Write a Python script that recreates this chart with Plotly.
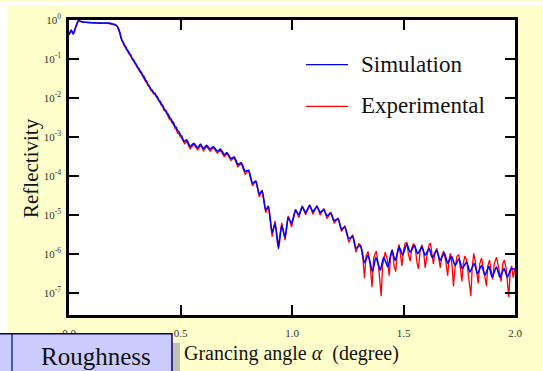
import numpy as np
import plotly.graph_objects as go

# Grazing angle (degree) and log10 reflectivity for the simulated curve
sim_angle = [
    0.000, 0.010, 0.019, 0.031, 0.042, 0.050, 0.060, 0.080, 0.100, 0.120,
    0.140, 0.160, 0.180, 0.196, 0.208, 0.216, 0.222, 0.228, 0.233, 0.238,
    0.244, 0.249, 0.254, 0.259, 0.265, 0.271, 0.277, 0.283, 0.289, 0.295,
    0.301, 0.307, 0.313, 0.319, 0.325, 0.331, 0.337, 0.343, 0.349, 0.355,
    0.361, 0.367, 0.373, 0.379, 0.385, 0.391, 0.397, 0.403, 0.409, 0.415,
    0.421, 0.427, 0.433, 0.439, 0.445, 0.451, 0.457, 0.463, 0.469, 0.475,
    0.481, 0.487, 0.493, 0.499, 0.505, 0.512, 0.518, 0.528, 0.543, 0.560,
    0.577, 0.590, 0.603, 0.617, 0.633, 0.647, 0.665, 0.680, 0.696, 0.709,
    0.726, 0.741, 0.757, 0.772, 0.790, 0.805, 0.823, 0.838, 0.853, 0.866,
    0.882, 0.894, 0.911, 0.924, 0.939, 0.954, 0.969, 0.983, 0.998, 1.016,
    1.031, 1.046, 1.061, 1.079, 1.094, 1.112, 1.126, 1.143, 1.157, 1.174,
    1.189, 1.207, 1.222, 1.237, 1.255, 1.272, 1.287, 1.307, 1.325, 1.341,
    1.361, 1.376, 1.396, 1.411, 1.430, 1.448, 1.463, 1.481, 1.496, 1.515,
    1.530, 1.549, 1.564, 1.582, 1.597, 1.615, 1.629, 1.649, 1.664, 1.683,
    1.698, 1.716, 1.731, 1.749, 1.763, 1.783, 1.798, 1.817, 1.832, 1.850,
    1.865, 1.883, 1.897, 1.917, 1.932, 1.951, 1.966, 1.983, 2.000,
]
sim_log_refl = [
    -0.38, -0.26, -0.36, -0.16, -0.02, -0.03, -0.05, -0.06, -0.07, -0.075,
    -0.08, -0.075, -0.08, -0.10, -0.12, -0.16, -0.22, -0.32, -0.44, -0.53,
    -0.58, -0.65, -0.68, -0.75, -0.79, -0.86, -0.90, -0.98, -1.02, -1.09,
    -1.13, -1.21, -1.24, -1.31, -1.35, -1.42, -1.46, -1.54, -1.58, -1.66,
    -1.70, -1.77, -1.80, -1.86, -1.88, -1.94, -1.98, -2.06, -2.09, -2.16,
    -2.20, -2.28, -2.31, -2.38, -2.42, -2.50, -2.53, -2.60, -2.64, -2.73,
    -2.75, -2.84, -2.86, -2.94, -2.97, -3.07, -3.11, -3.07, -3.24, -3.16,
    -3.28, -3.18, -3.30, -3.21, -3.31, -3.24, -3.36, -3.31, -3.45, -3.40,
    -3.55, -3.51, -3.70, -3.66, -3.88, -3.85, -4.18, -4.13, -4.46, -4.38,
    -4.86, -4.78, -5.45, -5.22, -5.86, -5.27, -5.57, -5.06, -5.21, -4.87,
    -4.99, -4.79, -4.93, -4.76, -4.91, -4.78, -4.93, -4.86, -5.02, -4.95,
    -5.14, -5.10, -5.36, -5.31, -5.60, -5.55, -5.85, -5.77, -6.22, -6.03,
    -6.45, -6.08, -6.41, -6.08, -6.33, -5.91, -6.16, -5.82, -6.03, -5.74,
    -5.95, -5.78, -5.99, -5.82, -6.03, -5.86, -6.09, -5.91, -6.16, -5.97,
    -6.23, -6.06, -6.29, -6.12, -6.37, -6.20, -6.46, -6.24, -6.50, -6.29,
    -6.54, -6.31, -6.59, -6.33, -6.59, -6.37, -6.59, -6.37, -6.40,
]

# Measured curve
exp_angle = [
    0.000, 0.010, 0.019, 0.031, 0.042, 0.050, 0.060, 0.080, 0.100, 0.120,
    0.140, 0.160, 0.180, 0.196, 0.208, 0.216, 0.222, 0.228, 0.233, 0.238,
    0.244, 0.249, 0.254, 0.259, 0.265, 0.271, 0.277, 0.283, 0.289, 0.295,
    0.301, 0.307, 0.313, 0.319, 0.325, 0.331, 0.337, 0.343, 0.349, 0.355,
    0.361, 0.367, 0.373, 0.379, 0.385, 0.391, 0.397, 0.403, 0.409, 0.415,
    0.421, 0.427, 0.433, 0.439, 0.445, 0.451, 0.457, 0.463, 0.469, 0.475,
    0.481, 0.487, 0.493, 0.499, 0.505, 0.512, 0.518, 0.528, 0.543, 0.560,
    0.577, 0.590, 0.603, 0.617, 0.633, 0.647, 0.665, 0.680, 0.696, 0.709,
    0.726, 0.741, 0.757, 0.772, 0.790, 0.805, 0.823, 0.838, 0.853, 0.866,
    0.882, 0.894, 0.911, 0.924, 0.939, 0.954, 0.969, 0.983, 0.998, 1.016,
    1.031, 1.046, 1.061, 1.079, 1.094, 1.112, 1.126, 1.143, 1.157, 1.174,
    1.189, 1.207, 1.222, 1.237, 1.255, 1.272, 1.287, 1.300, 1.310, 1.318,
    1.325, 1.332, 1.341, 1.350, 1.359, 1.366, 1.378, 1.388, 1.395, 1.400,
    1.406, 1.418, 1.428, 1.436, 1.442, 1.450, 1.458, 1.465, 1.472, 1.480,
    1.487, 1.493, 1.500, 1.508, 1.515, 1.522, 1.530, 1.537, 1.545, 1.552,
    1.560, 1.567, 1.574, 1.582, 1.590, 1.597, 1.605, 1.615, 1.621, 1.628,
    1.634, 1.641, 1.650, 1.658, 1.665, 1.672, 1.680, 1.690, 1.698, 1.704,
    1.710, 1.718, 1.724, 1.731, 1.740, 1.748, 1.755, 1.762, 1.768, 1.775,
    1.783, 1.790, 1.797, 1.802, 1.808, 1.815, 1.822, 1.830, 1.835, 1.842,
    1.850, 1.858, 1.866, 1.872, 1.878, 1.886, 1.892, 1.900, 1.907, 1.917,
    1.925, 1.932, 1.938, 1.945, 1.952, 1.960, 1.966, 1.972, 1.978, 1.985,
    1.992, 2.000,
]
exp_log_refl = [
    -0.38, -0.27, -0.36, -0.17, -0.02, -0.03, -0.05, -0.06, -0.07, -0.08,
    -0.085, -0.085, -0.09, -0.11, -0.13, -0.17, -0.24, -0.34, -0.46, -0.55,
    -0.61, -0.67, -0.71, -0.77, -0.82, -0.88, -0.93, -1.00, -1.05, -1.11,
    -1.16, -1.23, -1.27, -1.34, -1.38, -1.45, -1.49, -1.57, -1.61, -1.69,
    -1.72, -1.80, -1.83, -1.89, -1.91, -1.97, -2.01, -2.09, -2.12, -2.19,
    -2.23, -2.32, -2.34, -2.42, -2.46, -2.55, -2.57, -2.65, -2.68, -2.78,
    -2.80, -2.90, -2.91, -3.00, -3.02, -3.13, -3.17, -3.11, -3.30, -3.19,
    -3.33, -3.21, -3.35, -3.24, -3.36, -3.27, -3.41, -3.34, -3.50, -3.42,
    -3.60, -3.53, -3.76, -3.67, -3.95, -3.85, -4.25, -4.12, -4.53, -4.36,
    -4.94, -4.76, -5.55, -5.15, -5.78, -5.20, -5.64, -5.02, -5.30, -4.85,
    -5.06, -4.76, -4.99, -4.73, -4.98, -4.75, -5.00, -4.83, -5.09, -4.92,
    -5.21, -5.07, -5.42, -5.27, -5.70, -5.50, -5.95, -5.72, -5.85, -6.10,
    -6.62, -6.05, -5.93, -6.25, -6.85, -6.10, -5.92, -6.30, -6.75, -7.08,
    -6.30, -5.95, -6.15, -6.55, -6.05, -5.88, -6.30, -6.45, -5.95, -5.75,
    -6.05, -6.30, -5.90, -5.72, -5.70, -6.00, -6.18, -5.85, -5.73, -5.80,
    -6.20, -6.38, -5.95, -5.76, -5.92, -6.35, -6.05, -5.75, -5.72, -6.10,
    -6.25, -5.95, -5.85, -6.10, -6.35, -6.05, -5.92, -6.20, -6.55, -6.15,
    -5.98, -6.30, -6.82, -6.35, -6.05, -6.02, -6.40, -6.70, -6.25, -6.05,
    -6.15, -6.50, -6.75, -7.08, -6.35, -5.98, -6.20, -6.55, -6.75, -6.25,
    -6.10, -6.35, -6.60, -6.82, -6.30, -6.15, -6.40, -6.65, -6.25, -6.08,
    -6.30, -6.55, -6.70, -6.25, -6.15, -6.35, -6.75, -7.10, -6.50, -6.30,
    -6.60, -6.35,
]

x_tick_vals = [0.0, 0.5, 1.0, 1.5, 2.0]
x_tick_text = ["0.0", "0.5", "1.0", "1.5", "2.0"]
y_exponents = [0, -1, -2, -3, -4, -5, -6, -7]

SERIF = "Liberation Serif, Times New Roman, serif"
YELLOW = "#FFFFCC"

# Plot-area geometry in pixels (used to place page decorations)
W, H = 543, 371
ML, MR, MT, MB = 69, 28, 18, 56
PW, PH = W - ML - MR, H - MT - MB


def px(xp):
    return (xp - ML) / PW


def py(yp):
    return (H - MB - yp) / PH


fig = go.Figure()
fig.add_trace(go.Scatter(
    x=exp_angle, y=10.0 ** np.array(exp_log_refl), mode="lines",
    name="Experimental", line=dict(color="#FF0000", width=1.3),
    showlegend=False,
))
fig.add_trace(go.Scatter(
    x=sim_angle, y=10.0 ** np.array(sim_log_refl), mode="lines",
    name="Simulation", line=dict(color="#0000FF", width=1.6, shape="spline", smoothing=0.6),
    showlegend=False,
))

shapes = [
    # white page edges
    dict(type="rect", xref="paper", yref="paper", x0=px(0), x1=px(W), y0=py(3), y1=py(0),
         fillcolor="white", line_width=0, layer="below"),
    dict(type="rect", xref="paper", yref="paper", x0=px(0), x1=px(8), y0=py(H), y1=py(0),
         fillcolor="white", line_width=0, layer="below"),
    # "Roughness" button with its shadow
    dict(type="rect", xref="paper", yref="paper", x0=px(172), x1=px(180), y0=py(H + 2), y1=py(343),
         fillcolor="#C2C2B4", line_width=0),
    dict(type="rect", xref="paper", yref="paper", x0=px(-2), x1=px(172), y0=py(H + 2), y1=py(334),
         fillcolor="#CCCCFF", line=dict(color="#000080", width=1.5)),
    dict(type="line", xref="paper", yref="paper", x0=px(12), x1=px(12), y0=py(H + 2), y1=py(334),
         line=dict(color="#000080", width=1.2)),
    # legend samples
    dict(type="line", xref="paper", yref="paper", x0=px(306), x1=px(348), y0=py(63), y1=py(63),
         line=dict(color="#0000FF", width=1.3)),
    dict(type="line", xref="paper", yref="paper", x0=px(306), x1=px(348), y0=py(105), y1=py(105),
         line=dict(color="#FF0000", width=1.3)),
]

annotations = [
    dict(xref="paper", yref="paper", x=px(359), y=py(63), xanchor="left", yanchor="middle",
         text="Simulation", showarrow=False, font=dict(family=SERIF, size=23, color="#111")),
    dict(xref="paper", yref="paper", x=px(359), y=py(104), xanchor="left", yanchor="middle",
         text="Experimental", showarrow=False, font=dict(family=SERIF, size=23, color="#111")),
    dict(xref="paper", yref="paper", x=px(31), y=py(167), xanchor="center", yanchor="middle",
         text="Reflectivity", textangle=-90, showarrow=False,
         font=dict(family=SERIF, size=21, color="#111")),
    dict(xref="paper", yref="paper", x=px(182), y=py(354), xanchor="left", yanchor="middle",
         text="Grancing angle <i>α</i>  (degree)", showarrow=False,
         font=dict(family=SERIF, size=20, color="#111")),
    dict(xref="paper", yref="paper", x=px(96), y=py(357), xanchor="center", yanchor="middle",
         text="Roughness", showarrow=False, font=dict(family=SERIF, size=25, color="#111")),
]

fig.update_layout(
    width=W, height=H,
    margin=dict(l=ML, r=MR, t=MT, b=MB, pad=0),
    paper_bgcolor=YELLOW, plot_bgcolor="white",
    shapes=shapes, annotations=annotations,
    xaxis=dict(
        range=[0, 2], tickvals=x_tick_vals, ticktext=x_tick_text,
        ticks="inside", ticklen=10, tickwidth=2, tickcolor="black",
        showline=True, linewidth=2.5, linecolor="black", mirror="ticks",
        showgrid=False, zeroline=False,
        tickfont=dict(family=SERIF, size=11, color="#333"),
        ticklabelstandoff=6,
    ),
    yaxis=dict(
        type="log", range=[-7.56, 0],
        tickvals=[10.0 ** e for e in y_exponents],
        ticktext=["10<sup>%d</sup>" % e for e in y_exponents],
        ticks="inside", ticklen=10, tickwidth=2, tickcolor="black",
        showline=True, linewidth=2.5, linecolor="black", mirror="ticks",
        showgrid=False, zeroline=False,
        tickfont=dict(family=SERIF, size=11, color="#333"),
        ticklabelstandoff=3,
    ),
)

fig.write_html("out.html")
